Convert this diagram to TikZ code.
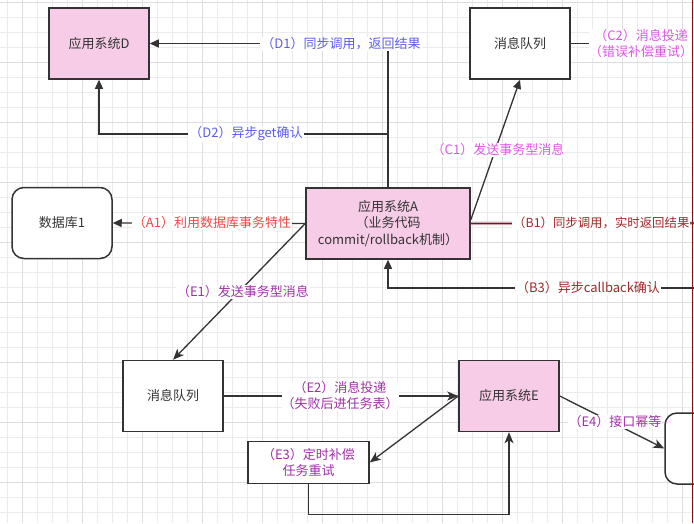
\documentclass[tikz,border=0pt]{standalone}
\usepackage{fontspec}
\setmainfont{Noto Sans CJK SC}
\usetikzlibrary{arrows.meta,calc}
\definecolor{pinkfill}{HTML}{F6CCE6}
\definecolor{edgec}{HTML}{333333}
\definecolor{dblue}{HTML}{5C5CF0}
\definecolor{cmag}{HTML}{E055E8}
\definecolor{ared}{HTML}{F04848}
\definecolor{bred}{HTML}{A02828}
\definecolor{epur}{HTML}{A030A8}
\definecolor{gridminor}{HTML}{EBEBEB}
\definecolor{gridmajor}{HTML}{DDDDDD}
\definecolor{redline}{HTML}{8B1010}
\definecolor{bshade}{HTML}{E8B4BC}
\tikzset{
  box/.style={draw=edgec, line width=1.5pt, minimum width=100pt, minimum height=71pt, inner sep=0pt, align=center, font=\fontsize{13}{16.5}\selectfont, text=edgec},
  pinkbox/.style={box, fill=pinkfill},
  whitebox/.style={box, fill=white},
  roundbox/.style={box, fill=white, rounded corners=12pt},
  conn/.style={draw=edgec, line width=1.3pt},
  tri/.style={conn, -{Triangle[length=9pt,width=8pt]}},
  stl/.style={conn, -{Stealth[length=11pt,width=9pt,inset=3pt]}},
  lbl/.style={fill=white, inner sep=1pt, align=center, font=\fontsize{13}{16}\selectfont},
}
\begin{document}
\begin{tikzpicture}[x=1pt,y=-1pt]
\useasboundingbox (0,0) rectangle (694,523);
\fill[white] (0,0) rectangle (694,523);
% grid
\foreach \k in {0,...,46} {\draw[gridminor, line width=0.8pt] (7.5+15*\k,0) -- (7.5+15*\k,523);}
\foreach \k in {0,...,35} {\draw[gridminor, line width=0.8pt] (0,2.5+15*\k) -- (694,2.5+15*\k);}
\foreach \k in {0,...,11} {\draw[gridmajor, line width=0.8pt] (22.5+60*\k,0) -- (22.5+60*\k,523);}
\foreach \k in {0,...,8} {\draw[gridmajor, line width=0.8pt] (0,2.5+60*\k) -- (694,2.5+60*\k);}

% nodes
\node[pinkbox] (D) at (99,43.5) {应用系统D};
\node[whitebox] (MQ1) at (520,43.5) {消息队列};
\node[roundbox] (DB) at (62,223) {数据库1};
\node[pinkbox, minimum width=164pt] (A) at (388,223.5) {应用系统A\\（业务代码\\commit/rollback机制）};
\node[whitebox] (MQ2) at (173,396) {消息队列};
\node[pinkbox] (E) at (509,396) {应用系统E};
\node[whitebox, minimum width=121pt, minimum height=42pt, text=epur, font=\fontsize{13}{15.5}\selectfont] (E3) at (308.5,462.5) {（E3）定时补偿\\任务重试};
\node[roundbox, minimum width=70pt] (R) at (700,448.5) {};

% coordinates for free ends
\coordinate (d2s) at (388,134);
\coordinate (b1e) at (694,223);
\coordinate (b3s) at (694,288);

% connectors
\draw[tri] (A.north) |- (D.east);
\draw[tri] (d2s) -| (D.south);
\draw[tri] ($(A.north east)!0.45!(A.south east)$) -- (MQ1.south);
\draw[conn] (MQ1.east) -- ++(18,0);
\draw[tri] (A.west) -- (DB.east);
\draw[bshade, line width=3.5pt] (A.east) -- (b1e);
\draw[conn] (A.east) -- (b1e);
\draw[tri] (b3s) -| (A.south);
\draw[stl] (A.west) -- (MQ2.north);
\draw[stl] (MQ2.east) -- (E.west);
\draw[stl] (E.west) -- (E3.east);
\draw[stl] (E3.south) -- ++(0,30.5) -| (E.south);
\draw[stl] (E.east) -- (R.west);

% labels
\node[lbl, text=dblue] (ld1) at (341,44) {（D1）同步调用，返回结果};
\node[lbl, text=dblue] (ld2) at (246,134) {（D2）异步get确认};
\node[lbl, text=cmag] (lc1) at (498,150) {（C1）发送事务型消息};
\node[lbl, text=cmag, inner sep=0pt] (lc2) at (641,43.5) {（C2）消息投递\\（错误补偿重试）};
\node[lbl, text=ared] (la1) at (212,223) {（A1）利用数据库事务特性};
\node[lbl, text=bred, anchor=west, font=\fontsize{12.4}{15}\selectfont] (lb1) at (512,223) {（B1）同步调用，实时返回结果};
\node[lbl, text=bred] (lb3) at (588,288) {（B3）异步callback确认};
\node[lbl, text=epur] (le1) at (243,292) {（E1）发送事务型消息};
\node[lbl, text=epur, inner sep=0pt] (le2) at (340,396) {（E2）消息投递\\（失败后进任务表）};
\node[lbl, text=epur] (le4) at (615,422) {（E4）接口幂等};

% right edge line
\draw[redline, line width=1pt] (692,0) -- (692,523);
\end{tikzpicture}
\end{document}
